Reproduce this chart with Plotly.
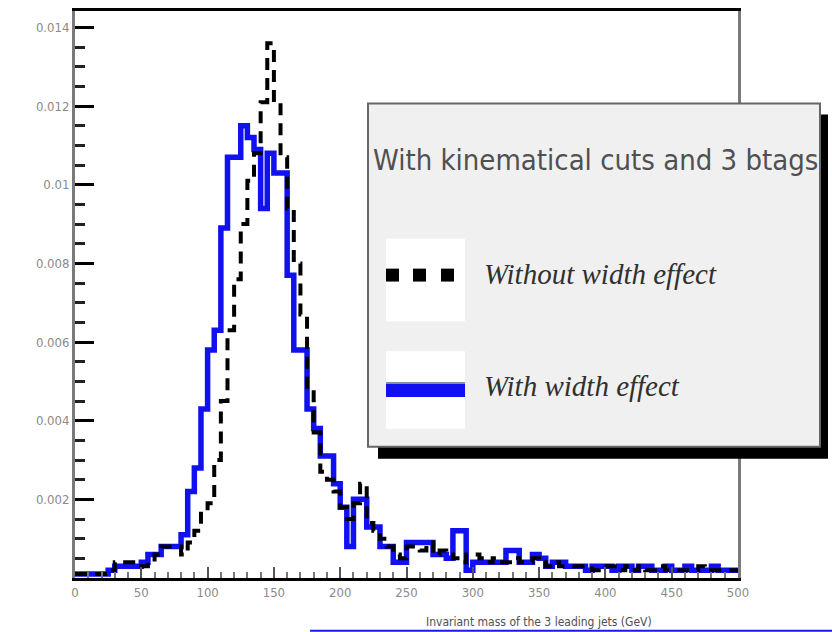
import numpy as np
import plotly.graph_objects as go

# Histogram binning: 100 bins of 5 GeV between 0 and 500 GeV
bin_edges = np.arange(0, 505, 5)

# Normalised entries per bin, with the top width effect included
with_width = [
    0.0001, 0.0001, 0.0001, 0.0001, 0.0001, 0.0002, 0.0003, 0.0003, 0.0003, 0.0003,
    0.0004, 0.0006, 0.0006, 0.0008, 0.0008, 0.0008, 0.0011, 0.0022, 0.0028, 0.0043,
    0.0058, 0.0063, 0.0089, 0.0107, 0.0107, 0.0115, 0.0112, 0.0109, 0.0094, 0.0108,
    0.0103, 0.0103, 0.0077, 0.0058, 0.0058, 0.0043, 0.0038, 0.0031, 0.0031, 0.0024,
    0.0018, 0.0008, 0.0020, 0.0020, 0.0013, 0.0013, 0.0008, 0.0008, 0.0004, 0.0004,
    0.0009, 0.0009, 0.0009, 0.0009, 0.0006, 0.0006, 0.0005, 0.0012, 0.0012, 0.0002,
    0.0004, 0.0004, 0.0004, 0.0004, 0.0004, 0.0007, 0.0007, 0.0004, 0.0004, 0.0006,
    0.0005, 0.0003, 0.0004, 0.0004, 0.0003, 0.0003, 0.0003, 0.0002, 0.0003, 0.0003,
    0.0003, 0.0002, 0.0003, 0.0003, 0.0002, 0.0003, 0.0003, 0.0002, 0.0002, 0.0003,
    0.0002, 0.0002, 0.0003, 0.0002, 0.0002, 0.0002, 0.0003, 0.0002, 0.0002, 0.0002,
]

# Normalised entries per bin, zero-width top quarks
without_width = [
    0.0001, 0.0001, 0.0001, 0.0001, 0.0001, 0.0002, 0.0004, 0.0004, 0.0004, 0.0004,
    0.0003, 0.0004, 0.0006, 0.0008, 0.0008, 0.0008, 0.0006, 0.0009, 0.0012, 0.0017,
    0.0019, 0.0030, 0.0045, 0.0063, 0.0076, 0.0090, 0.0101, 0.0108, 0.0121, 0.0136,
    0.0121, 0.0107, 0.0094, 0.0080, 0.0067, 0.0048, 0.0037, 0.0027, 0.0025, 0.0022,
    0.0018, 0.0015, 0.0019, 0.0024, 0.0014, 0.0012, 0.0010, 0.0008, 0.0006, 0.0005,
    0.0008, 0.0008, 0.0007, 0.0009, 0.0006, 0.0007, 0.0006, 0.0005, 0.0004, 0.0006,
    0.0006, 0.0005, 0.0004, 0.0005, 0.0004, 0.0004, 0.0005, 0.0004, 0.0004, 0.0005,
    0.0004, 0.0003, 0.0004, 0.0003, 0.0003, 0.0003, 0.0003, 0.0003, 0.0002, 0.0003,
    0.0003, 0.0003, 0.0002, 0.0003, 0.0002, 0.0003, 0.0002, 0.0002, 0.0003, 0.0002,
    0.0002, 0.0002, 0.0002, 0.0002, 0.0003, 0.0002, 0.0002, 0.0002, 0.0002, 0.0002,
]

x_ticks = [0, 50, 100, 150, 200, 250, 300, 350, 400, 450, 500]
y_ticks = [0.002, 0.004, 0.006, 0.008, 0.01, 0.012, 0.014]
y_tick_labels = ["0.002", "0.004", "0.006", "0.008", "0.01", "0.012", "0.014"]

legend_title = "With kinematical cuts and 3 btags"
label_without = "Without width effect"
label_with = "With width effect"
x_title = "Invariant mass of the 3 leading jets (GeV)"

W, H = 832, 632
L, R, T, B = 75, 738, 8, 578
NARROW = "Liberation Sans Narrow, DejaVu Sans Condensed, Arial Narrow, Liberation Sans, sans-serif"
SERIF = "Liberation Serif, Times New Roman, serif"


def px(xp):
    return (xp - L) / (R - L)


def py(yp):
    return (B - yp) / (B - T)


def step(values):
    # repeat the last bin content so the final bin gets its horizontal top
    return list(values) + [values[-1]]


fig = go.Figure()
fig.add_trace(go.Scatter(
    x=bin_edges, y=step(with_width), mode="lines", line_shape="hv",
    line=dict(color="#1010f0", width=5.5), name=label_with, showlegend=False,
))
fig.add_trace(go.Scatter(
    x=bin_edges, y=step(without_width), mode="lines", line_shape="hv",
    line=dict(color="black", width=4, dash="12px,8px"), name=label_without,
    showlegend=False,
))

shapes = []
# legend box: drop shadow, frame, sample boxes
shapes.append(dict(type="rect", xref="paper", yref="paper",
                   x0=px(378), x1=px(828), y0=py(458), y1=py(112),
                   fillcolor="black", line=dict(width=0), layer="above"))
shapes.append(dict(type="rect", xref="paper", yref="paper",
                   x0=px(368), x1=px(820), y0=py(446), y1=py(101),
                   fillcolor="#f0f0f0", line=dict(color="#666666", width=2), layer="above"))
shapes.append(dict(type="rect", xref="paper", yref="paper",
                   x0=px(386), x1=px(465), y0=py(320), y1=py(237),
                   fillcolor="white", line=dict(width=0), layer="above"))
shapes.append(dict(type="rect", xref="paper", yref="paper",
                   x0=px(386), x1=px(465), y0=py(428), y1=py(350),
                   fillcolor="white", line=dict(width=0), layer="above"))
for x0 in (386, 413, 441):
    shapes.append(dict(type="rect", xref="paper", yref="paper",
                       x0=px(x0), x1=px(x0 + 13), y0=py(280), y1=py(267),
                       fillcolor="black", line=dict(width=0), layer="above"))
shapes.append(dict(type="rect", xref="paper", yref="paper",
                   x0=px(386), x1=px(465), y0=py(396), y1=py(383),
                   fillcolor="#1010f0", line=dict(width=0), layer="above"))
shapes.append(dict(type="line", xref="paper", yref="paper",
                   x0=px(386), x1=px(465), y0=py(382), y1=py(382),
                   line=dict(color="#8090a0", width=2), layer="above"))
# thin rule along the bottom edge of the canvas
shapes.append(dict(type="line", xref="paper", yref="paper",
                   x0=px(310), x1=px(832), y0=py(631), y1=py(631),
                   line=dict(color="#1a1ae0", width=2), layer="above"))

annotations = [
    dict(text=legend_title, xref="paper", yref="paper", x=px(595), y=py(158),
         xanchor="center", yanchor="middle", showarrow=False,
         font=dict(family=NARROW, size=29, color="#505050")),
    dict(text="<i>" + label_without + "</i>", xref="paper", yref="paper",
         x=px(482), y=py(272), xanchor="left", yanchor="middle", showarrow=False,
         font=dict(family=SERIF, size=29, color="#303030")),
    dict(text="<i>" + label_with + "</i>", xref="paper", yref="paper",
         x=px(482), y=py(385), xanchor="left", yanchor="middle", showarrow=False,
         font=dict(family=SERIF, size=29, color="#303030")),
    dict(text=x_title, xref="paper", yref="paper", x=px(424), y=py(622),
         xanchor="left", yanchor="middle", showarrow=False,
         font=dict(family=NARROW, size=12, color="#505050")),
]

fig.update_layout(
    width=W, height=H,
    margin=dict(l=L, r=W - R, t=T, b=H - B, pad=0),
    paper_bgcolor="white", plot_bgcolor="white",
    shapes=shapes, annotations=annotations,
    showlegend=False,
)
fig.update_xaxes(
    range=[0, 500], tickvals=x_ticks, ticktext=[str(v) for v in x_ticks],
    showgrid=False, zeroline=False,
    showline=True, linecolor="black", linewidth=3, mirror=True,
    ticks="inside", ticklen=11, tickwidth=2, tickcolor="#555555",
    minor=dict(dtick=10, ticks="inside", ticklen=6, tickwidth=2, tickcolor="#777777"),
    tickfont=dict(family=NARROW, size=13, color="#8a8a8a"),
)
fig.update_yaxes(
    range=[0, 0.01442], tickvals=y_ticks, ticktext=y_tick_labels,
    showgrid=False, zeroline=False,
    showline=True, linecolor="#7a7a7a", linewidth=3, mirror=True,
    ticks="inside", ticklen=19, tickwidth=3, tickcolor="black",
    minor=dict(dtick=0.0005, ticks="inside", ticklen=10, tickwidth=3, tickcolor="#222222"),
    tickfont=dict(family=NARROW, size=13, color="#8a8a8a"),
)

fig.write_html("out.html")
